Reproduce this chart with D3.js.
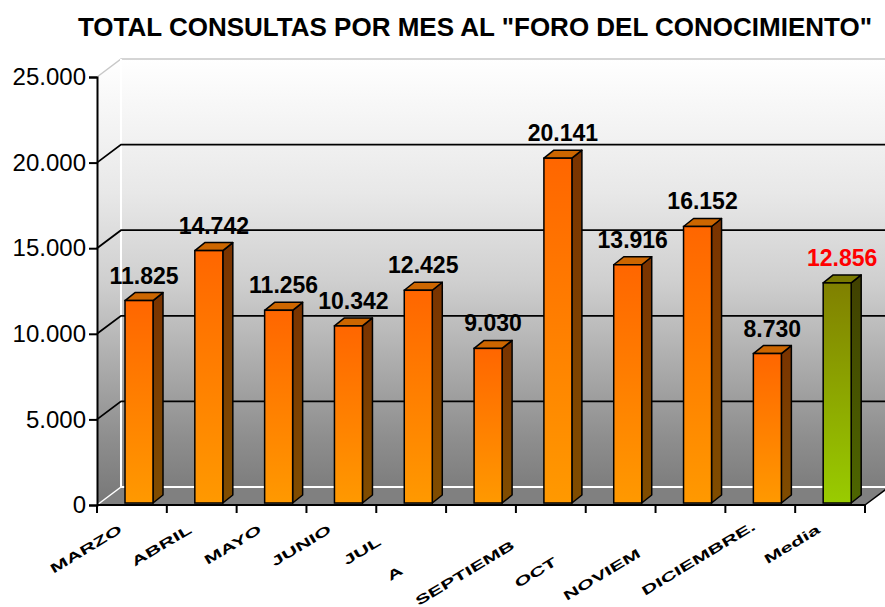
<!DOCTYPE html>
<html>
<head>
<meta charset="utf-8">
<script src="https://cdn.jsdelivr.net/npm/d3@7"></script>
<style>
  body { margin: 0; background: #fff; }
  svg { display: block; }
  text { font-family: "Liberation Sans", Arial, sans-serif; }
</style>
</head>
<body>
<svg width="885" height="607"></svg>
<script>
// data
const months = ["MARZO", "ABRIL", "MAYO", "JUNIO", "JULIO", "AGOSTO", "SEPTIEMBRE",
                "OCTUBRE", "NOVIEMBRE", "DICIEMBRE", "Media"];
// what the picture actually shows under each bar (some names are cut off)
const tickLabels = ["MARZO", "ABRIL", "MAYO", "JUNIO", "JUL", "A", "SEPTIEMB",
                    "OCT", "NOVIEM", "DICIEMBRE.", "Media"];
const consultas = [11825, 14742, 11256, 10342, 12425, 9030, 20141, 13916, 16152, 8730, 12856];
const yTicks = [0, 5000, 10000, 15000, 20000, 25000];
const chartTitle = 'TOTAL CONSULTAS POR MES AL "FORO DEL CONOCIMIENTO"';

const svg = d3.select("svg");
const width = +svg.attr("width");

const es = d3.formatLocale({decimal: ",", thousands: ".", grouping: [3], currency: ["", ""]});
const fmt = es.format(",d");

// 3d offsets
const DX = 24, DY = -18;     // depth of the walls
const BDX = 10, BDY = -8;    // depth of the bars
const barW = 28, barOff = 28;

const x = d3.scaleBand().domain(months).range([97, 865]);
const y = d3.scaleLinear().domain([0, 25000]).range([505, 77]);
const yBar = v => y(v) - 2;

const defs = svg.append("defs");
function vgrad(id, stops, y1, y2) {
    const g = defs.append("linearGradient").attr("id", id)
        .attr("x1", 0).attr("x2", 0).attr("y1", 0).attr("y2", 1);
    if (y1 !== undefined) {
        g.attr("gradientUnits", "userSpaceOnUse")
            .attr("x1", 0).attr("x2", 0).attr("y1", y1).attr("y2", y2);
    }
    stops.forEach(s => g.append("stop").attr("offset", s[0]).attr("stop-color", s[1]));
}
vgrad("wall", [[0, "#ffffff"], [0.3, "#e8e8e8"], [0.5, "#cfcfcf"], [0.7, "#a9a9a9"],
               [0.85, "#8e8e8e"], [1, "#777777"]], y(25000) + DY, y(0));
vgrad("orangeFront", [[0, "#ff6600"], [1, "#ff9900"]]);
vgrad("orangeSide", [[0, "#7a3300"], [1, "#804d00"]]);
vgrad("greenFront", [[0, "#808000"], [1, "#99cc00"]]);
vgrad("greenSide", [[0, "#404000"], [1, "#4d6600"]]);

const line = d3.line();
const x0 = x.range()[0], x1 = x.range()[1];
const yTop = y(25000), yBase = y(0);

// back wall
svg.append("path")
    .attr("d", line([[x0 + DX, yTop + DY], [x1 + DX + 40, yTop + DY],
                     [x1 + DX + 40, yBase + DY], [x0 + DX, yBase + DY]]) + "Z")
    .attr("fill", "url(#wall)");
// side wall
svg.append("path")
    .attr("d", line([[x0, yTop], [x0 + DX, yTop + DY], [x0 + DX, yBase + DY], [x0, yBase]]) + "Z")
    .attr("fill", "url(#wall)");
// floor
svg.append("path")
    .attr("d", line([[x0, yBase], [x1, yBase], [x1 + DX, yBase + DY], [x0 + DX, yBase + DY]]) + "Z")
    .attr("fill", "#808080");

// wall edges
svg.append("path")
    .attr("d", line([[x0, yTop], [x0 + DX, yTop + DY], [width + 10, yTop + DY]]))
    .attr("fill", "none").attr("stroke", "#c8c8c8").attr("stroke-width", 1.5);
svg.append("path")
    .attr("d", line([[x0 + DX, yTop + DY], [x0 + DX, yBase + DY], [width + 10, yBase + DY]]))
    .attr("fill", "none").attr("stroke", "#ffffff").attr("stroke-width", 2);
svg.append("path")
    .attr("d", line([[x0, yBase], [x0 + DX, yBase + DY]]))
    .attr("fill", "none").attr("stroke", "#ffffff").attr("stroke-width", 1.5);
svg.append("path")
    .attr("d", line([[x1, yBase], [x1 + DX, yBase + DY]]))
    .attr("fill", "none").attr("stroke", "#000").attr("stroke-width", 1.5);

// gridlines
svg.append("g").selectAll("path")
    .data(yTicks.filter(t => t > 0 && t < 25000))
    .join("path")
    .attr("d", t => line([[x0, y(t)], [x0 + DX, y(t) + DY], [width + 10, y(t) + DY]]))
    .attr("fill", "none").attr("stroke", "#000").attr("stroke-width", 1.8);

// y axis
const yAxis = svg.append("g")
    .attr("transform", `translate(${x0},0)`)
    .call(d3.axisLeft(y).tickValues(yTicks).tickSize(8).tickPadding(3).tickFormat(fmt));
yAxis.select(".domain").attr("stroke", "#000").attr("stroke-width", 2);
yAxis.selectAll(".tick line").attr("stroke", "#000").attr("stroke-width", 2);
yAxis.selectAll(".tick text")
    .attr("font-size", 24).attr("fill", "#000")
    .attr("font-family", '"Liberation Sans", Arial, sans-serif');

// x axis: base line and ticks on the category boundaries
svg.append("path")
    .attr("d", line([[x0, yBase], [x1, yBase]]))
    .attr("stroke", "#000").attr("stroke-width", 2);
const bounds = months.map(m => x(m)).concat([x1]);
svg.append("g").selectAll("line")
    .data(bounds)
    .join("line")
    .attr("x1", d => d).attr("x2", d => d)
    .attr("y1", yBase).attr("y2", yBase + 8)
    .attr("stroke", "#000").attr("stroke-width", 2);

// bars
const bars = svg.append("g").selectAll("g")
    .data(months.map((m, i) => ({m, v: consultas[i], avg: m === "Media"})))
    .join("g");
bars.each(function (d) {
    const g = d3.select(this);
    const bx = x(d.m) + barOff, by = yBar(d.v), bb = yBar(0);
    g.append("path") // side
        .attr("d", line([[bx + barW, by], [bx + barW + BDX, by + BDY],
                         [bx + barW + BDX, bb + BDY], [bx + barW, bb]]) + "Z")
        .attr("fill", d.avg ? "url(#greenSide)" : "url(#orangeSide)")
        .attr("stroke", "#000").attr("stroke-width", 1.5).attr("stroke-linejoin", "round");
    g.append("path") // top
        .attr("d", line([[bx, by], [bx + BDX, by + BDY], [bx + barW + BDX, by + BDY],
                         [bx + barW, by]]) + "Z")
        .attr("fill", d.avg ? "#7a7a00" : "#cc6600")
        .attr("stroke", "#000").attr("stroke-width", 1.5).attr("stroke-linejoin", "round");
    g.append("rect") // front
        .attr("x", bx).attr("y", by).attr("width", barW).attr("height", bb - by)
        .attr("fill", d.avg ? "url(#greenFront)" : "url(#orangeFront)")
        .attr("stroke", "#000").attr("stroke-width", 1.5);
});

// value labels
svg.append("g").selectAll("text")
    .data(months.map((m, i) => ({m, v: consultas[i], avg: m === "Media"})))
    .join("text")
    .attr("x", d => x(d.m) + barOff + barW / 2 + 5)
    .attr("y", d => yBar(d.v) - 17)
    .attr("text-anchor", "middle")
    .attr("font-size", 23).attr("font-weight", "bold")
    .attr("fill", d => d.avg ? "#ff0000" : "#000")
    .text(d => fmt(d.v));

// rotated category labels, placed where the full name would sit
const ANG = 31, SX = 1.7;
const lab = svg.append("g");
const probe = lab.append("text").attr("font-size", 13).attr("font-weight", "bold");
months.forEach((m, i) => {
    probe.text(m);
    const L = probe.node().getComputedTextLength() * SX;
    const px = x(m) + x.bandwidth() / 2 - 9, py = 532;
    const sx = px - L * Math.cos(ANG * Math.PI / 180);
    const sy = py + L * Math.sin(ANG * Math.PI / 180);
    lab.append("text")
        .attr("transform", `translate(${sx},${sy}) rotate(${-ANG}) scale(${SX},1)`)
        .attr("font-size", 13).attr("font-weight", "bold").attr("fill", "#000")
        .text(tickLabels[i]);
});
probe.remove();

// title
svg.append("text")
    .attr("x", 475).attr("y", 36)
    .attr("text-anchor", "middle")
    .attr("font-size", 26).attr("font-weight", "bold")
    .text(chartTitle);
</script>
</body>
</html>
